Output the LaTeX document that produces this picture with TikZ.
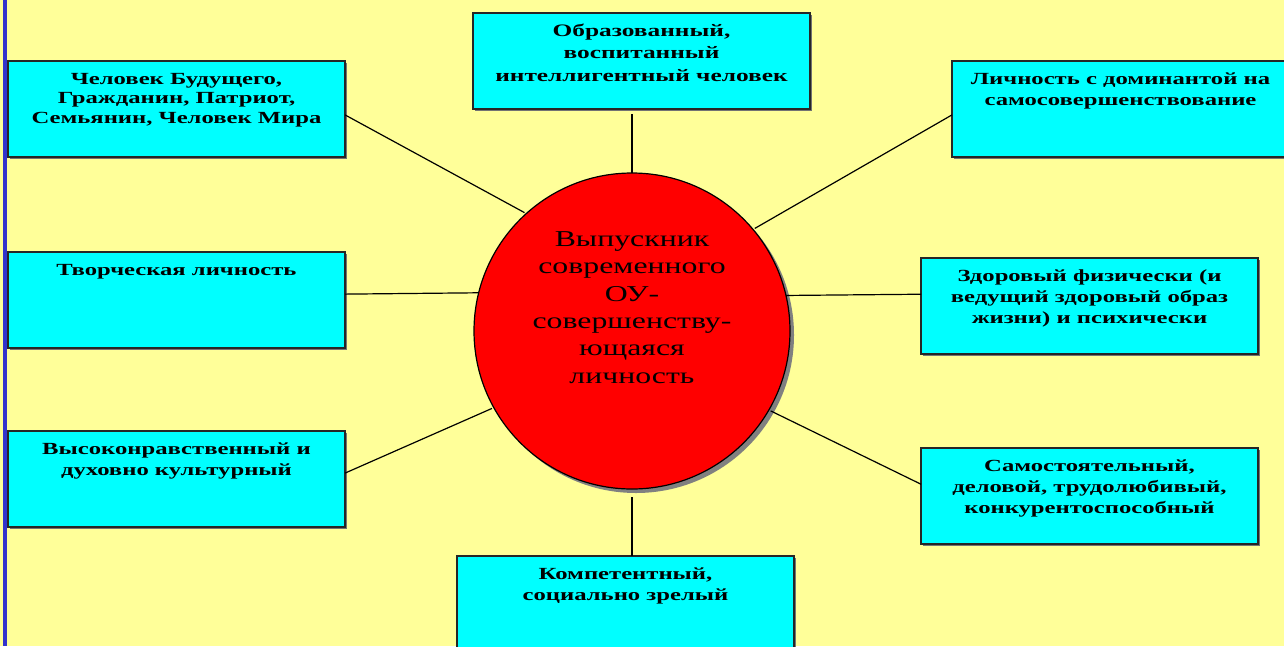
\documentclass[tikz,border=0pt]{standalone}
\usepackage{fontspec}
\setmainfont{Liberation Serif}[FakeStretch=1.45]
\newfontfamily\hubfont{Liberation Serif}[FakeStretch=1.4]
\usetikzlibrary{shadows}
\definecolor{slidebg}{HTML}{FFFF99}
\definecolor{cellfill}{HTML}{00FFFF}
\definecolor{barblue}{HTML}{3333CC}

\begin{document}
\begin{tikzpicture}[x=1pt,y=-1pt,line width=1.2pt,
cell/.style={draw=black!85,fill=cellfill,inner sep=0pt,outer sep=0pt,anchor=north west,
  general shadow={fill=black!55,shadow xshift=1.5pt,shadow yshift=-1.5pt},
  font=\bfseries\fontsize{17}{21}\selectfont,
  execute at begin node={\begin{minipage}[t][96pt][t]{337pt}\centering\rule{0pt}{23pt}},
  execute at end node={\end{minipage}}},
hub/.style={draw,circle,fill=red,minimum size=316pt,inner sep=0pt,outer sep=0pt,
  general shadow={fill=gray,shadow xshift=4pt,shadow yshift=-4pt},
  font=\hubfont\fontsize{22.7}{27.3}\selectfont}]

\useasboundingbox (0,0) rectangle (1284,646);
\clip (0,0) rectangle (1284,646);
\fill[slidebg] (0,0) rectangle (1284,646);
\fill[barblue] (3,0) rectangle (7,646);

\draw (632,331) node[hub] (grad) {\raisebox{-52pt}[0pt][0pt]{\parbox[b]{260pt}{\centering
  Выпускник\\современного\\ОУ-\\совершенству-\\ющаяся\\личность}}};

\draw (8,61) node[cell,font=\bfseries\fontsize{17}{19.5}\selectfont] (tl) {Человек Будущего,\\Гражданин, Патриот,\\Семьянин, Человек Мира};
\draw (473,13) node[cell,font=\bfseries\fontsize{17.5}{22.5}\selectfont] (tm) {Образованный,\\воспитанный\\интеллигентный человек};
\draw (952,61) node[cell] (tr) {Личность с доминантой на\\самосовершенствование};
\draw (8,252) node[cell] (lm) {Творческая личность};
\draw (921,258) node[cell] (rm) {Здоровый физически (и\\ведущий здоровый образ\\жизни) и психически};
\draw (8,431) node[cell] (bl) {Высоконравственный и\\духовно культурный};
\draw (921,448) node[cell] (br) {Самостоятельный,\\деловой, трудолюбивый,\\конкурентоспособный};
\draw (457,556) node[cell] (bm) {Компетентный,\\социально зрелый};

\draw[shorten >=2pt] (tl.-2) -- (grad.132.5);
\draw[shorten <=5pt] (grad.north |- tm.south) -- (grad.north);
\draw[shorten >=2pt] (tr.182) -- (grad.40.5);
\draw (lm.2) -- (grad.166.6);
\draw (rm.176) -- (grad.13.3);
\draw[shorten >=2pt] (bl.2) -- (grad.209.7);
\draw[shorten >=2pt] (br.176) -- (grad.330.5);
\draw[shorten <=8pt] (grad.south) -- (grad.south |- bm.north);
\end{tikzpicture}
\end{document}
